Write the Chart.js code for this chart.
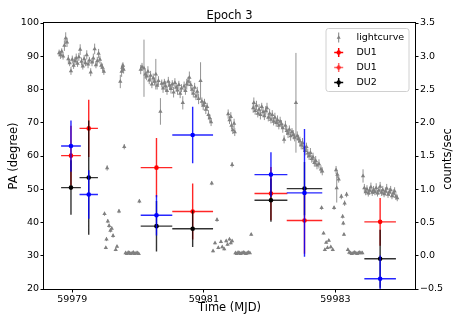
<!DOCTYPE html>
<html>
<head>
<meta charset="utf-8">
<script src="https://cdn.jsdelivr.net/npm/chart.js@4.4.1/dist/chart.umd.min.js"></script>
<style>
  html, body { margin: 0; padding: 0; background: #fff; }
  canvas { display: block; }
</style>
</head>
<body>
<canvas id="paChart" width="463" height="327" style="width:463px;height:327px"></canvas>
<script>
// ---- data ----
const xTicks = [59979, 59981, 59983];
const paTicks = [20, 30, 40, 50, 60, 70, 80, 90, 100];
const rateTicks = [-0.5, 0, 0.5, 1, 1.5, 2, 2.5, 3, 3.5];

// polarisation angle bins
const binTime = [59978.98, 59979.25, 59980.28, 59980.83, 59982.02, 59982.53, 59983.68];
const binHalfWidth = [0.15, 0.14, 0.24, 0.31, 0.25, 0.27, 0.24];
const paDU1Red = [60.1, 68.3, 56.5, 43.3, 48.7, 40.6, 40.2];
const paDU1RedErr = [9.0, 8.6, 8.9, 8.4, 8.0, 10.0, 7.2];
const paDU1Blue = [63.0, 48.4, 42.2, 66.3, 54.4, 48.9, 23.1];
const paDU1BlueErr = [7.7, 7.3, 6.1, 8.5, 6.7, 19.2, 7.0];
const paDU2 = [50.5, 53.5, 38.9, 38.1, 46.7, 50.2, 29.1];
const paDU2Err = [8.2, 17.2, 7.6, 5.5, 6.5, 8.0, 8.7];

// lightcurve (counts/sec)
const lcTime = [
  59978.80, 59978.82, 59978.84, 59978.86, 59978.88, 59978.90, 59978.92, 59978.94, 59978.96, 59978.98,
  59979.00, 59979.02, 59979.04, 59979.06, 59979.08, 59979.10, 59979.12, 59979.14, 59979.16, 59979.18,
  59979.20, 59979.22, 59979.24, 59979.26, 59979.28, 59979.30, 59979.32, 59979.34, 59979.36, 59979.38,
  59979.40, 59979.42, 59979.44, 59979.46, 59979.48,
  59979.49, 59979.51, 59979.52, 59979.53, 59979.54, 59979.56, 59979.58, 59979.60, 59979.62, 59979.66,
  59979.68, 59979.71, 59979.73, 59979.75, 59979.76, 59979.77, 59979.78, 59979.79, 59979.81, 59979.83,
  59979.85, 59979.87, 59979.89, 59979.91, 59979.93, 59979.95, 59979.97, 59979.99, 59980.01, 59980.02,
  59980.04, 59980.06, 59980.09, 59980.11, 59980.13, 59980.15, 59980.17, 59980.19, 59980.21, 59980.23,
  59980.25, 59980.27, 59980.29, 59980.31, 59980.34, 59980.36, 59980.38, 59980.40, 59980.42, 59980.44,
  59980.46, 59980.48, 59980.50, 59980.52, 59980.54, 59980.56, 59980.58, 59980.60, 59980.62, 59980.64,
  59980.66, 59980.68, 59980.70, 59980.72, 59980.74, 59980.76, 59980.78, 59980.80, 59980.82, 59980.84,
  59980.86, 59980.88, 59980.90, 59980.92, 59980.95, 59980.97, 59980.99, 59981.01, 59981.03, 59981.05,
  59981.07, 59981.09, 59981.11,
  59981.12, 59981.14, 59981.17, 59981.20, 59981.22, 59981.26, 59981.28, 59981.31, 59981.34, 59981.36,
  59981.37, 59981.39, 59981.39, 59981.41, 59981.41, 59981.42, 59981.43, 59981.43, 59981.44, 59981.46,
  59981.47, 59981.48, 59981.50, 59981.52, 59981.54, 59981.56, 59981.58, 59981.60, 59981.62, 59981.64,
  59981.66, 59981.68, 59981.70, 59981.72,
  59981.75, 59981.76, 59981.78, 59981.80, 59981.82, 59981.84, 59981.86, 59981.88, 59981.90, 59981.92,
  59981.94, 59981.96, 59981.98, 59982.00, 59982.02, 59982.04, 59982.06, 59982.08, 59982.10, 59982.12,
  59982.14, 59982.16, 59982.18, 59982.20, 59982.22, 59982.24, 59982.26, 59982.28, 59982.30, 59982.32,
  59982.34, 59982.36, 59982.38, 59982.40, 59982.42, 59982.44, 59982.46, 59982.48, 59982.50, 59982.52,
  59982.54, 59982.56, 59982.58, 59982.60, 59982.62, 59982.64, 59982.66, 59982.68, 59982.70, 59982.72,
  59982.75, 59982.78, 59982.80,
  59982.79, 59982.82, 59982.84, 59982.86, 59982.88, 59982.90, 59982.93, 59982.96, 59982.98, 59983.01,
  59983.02, 59983.03, 59983.05, 59983.09, 59983.11, 59983.12, 59983.13, 59983.14, 59983.17, 59983.19,
  59983.21, 59983.23, 59983.25, 59983.27, 59983.29, 59983.31, 59983.33, 59983.35, 59983.37, 59983.39,
  59983.41,
  59983.42, 59983.44, 59983.46, 59983.48, 59983.50, 59983.52, 59983.54, 59983.56, 59983.58, 59983.60,
  59983.62, 59983.64, 59983.66, 59983.68, 59983.70, 59983.72, 59983.74, 59983.76, 59983.78, 59983.80,
  59983.82, 59983.84, 59983.86, 59983.88, 59983.90, 59983.92, 59983.94
];
const lcRate = [
  3.05, 3.02, 3.07, 3.00, 3.16, 3.27, 3.21, 2.96, 2.90, 2.78,
  2.95, 2.86, 2.93, 2.97, 2.89, 2.99, 3.10, 2.92, 2.85, 2.96,
  2.90, 3.02, 2.88, 2.94, 2.76, 2.91, 2.97, 3.11, 2.87, 2.93,
  3.04, 2.95, 2.86, 2.83, 2.77,
  0.63, 0.12, 0.25, 1.32, 0.52, 0.45, 0.38, 0.41, 0.30, 0.09,
  0.14, 0.67, 2.62, 2.77, 2.83, 2.86, 2.80, 1.64, 0.04, 0.03,
  0.05, 0.04, 0.03, 0.04, 0.05, 0.03, 0.04, 0.04, 0.03, 0.82,
  2.80, 2.84, 2.82, 2.73, 2.70, 2.77, 2.64, 2.71, 2.58, 2.67,
  2.62, 2.73, 2.56, 2.63, 2.17, 2.59, 2.52, 2.60, 2.55, 2.48,
  2.62, 2.56, 2.51, 2.58, 2.46, 2.60, 2.53, 2.49, 2.57, 2.44,
  2.52, 2.30, 2.55, 2.48, 2.58, 2.62, 2.68, 2.57, 2.50, 2.44,
  2.53, 2.40, 2.47, 2.36, 2.63, 2.32, 2.26, 2.30, 2.20, 2.24,
  2.12, 2.07, 2.01,
  1.09, 0.07, 0.19, 0.54, 0.12, 0.21, 0.13, 0.10, 0.22, 0.17,
  2.13, 0.25, 2.04, 0.19, 2.09, 1.96, 1.37, 0.22, 1.89, 1.99,
  1.86, 0.04, 0.03, 0.05, 0.04, 0.03, 0.04, 0.05, 0.04, 0.03,
  0.04, 0.05, 0.04, 0.32,
  2.22, 2.30, 2.18, 2.26, 2.14, 2.20, 2.12, 2.24, 2.16, 2.10,
  2.18, 2.22, 2.08, 2.14, 2.05, 2.12, 2.02, 2.08, 2.00, 2.04,
  1.96, 2.02, 1.98, 1.92, 1.75, 1.96, 1.88, 1.84, 1.90, 1.80,
  1.86, 1.82, 1.78, 2.30, 1.80, 1.76, 1.72, 1.66, 1.70, 1.62,
  1.58, 1.64, 1.54, 1.50, 1.55, 1.46, 1.48, 1.40, 1.43, 1.36,
  1.38, 1.30, 1.27,
  0.72, 0.34, 0.09, 0.20, 0.12, 0.23, 0.13, 0.09, 0.72, 1.29,
  1.02, 1.22, 1.15, 0.89, 0.59, 0.49, 0.32, 0.79, 0.92, 0.09,
  0.05, 0.04, 0.03, 0.04, 0.05, 0.04, 0.03, 0.04, 0.05, 0.04,
  0.04,
  1.20, 1.02, 0.96, 1.00, 0.94, 0.98, 1.03, 0.95, 0.99, 0.96,
  1.02, 0.94, 0.98, 1.04, 0.95, 0.99, 0.93, 0.97, 1.01, 0.92,
  0.96, 0.99, 0.90, 0.94, 0.97, 0.89, 0.87
];
const lcErr = [
  0.05, 0.06, 0.05, 0.05, 0.08, 0.09, 0.07, 0.06, 0.05, 0.06,
  0.06, 0.05, 0.06, 0.07, 0.05, 0.06, 0.08, 0.06, 0.05, 0.06,
  0.05, 0.07, 0.06, 0.05, 0.06, 0.06, 0.07, 0.08, 0.05, 0.06,
  0.07, 0.06, 0.05, 0.06, 0.05,
  0.03, 0.02, 0.03, 0.04, 0.03, 0.03, 0.03, 0.03, 0.03, 0.02,
  0.02, 0.03, 0.10, 0.08, 0.06, 0.05, 0.06, 0.04, 0.01, 0.01,
  0.01, 0.01, 0.01, 0.01, 0.01, 0.01, 0.01, 0.01, 0.01, 0.03,
  0.07, 0.06, 0.43, 0.07, 0.06, 0.08, 0.06, 0.07, 0.06, 0.07,
  0.06, 0.23, 0.06, 0.07, 0.20, 0.06, 0.07, 0.06, 0.08, 0.06,
  0.07, 0.06, 0.07, 0.06, 0.08, 0.07, 0.06, 0.07, 0.06, 0.07,
  0.06, 0.10, 0.07, 0.06, 0.08, 0.07, 0.09, 0.06, 0.07, 0.06,
  0.07, 0.06, 0.07, 0.08, 0.28, 0.06, 0.07, 0.06, 0.07, 0.06,
  0.07, 0.06, 0.06,
  0.03, 0.02, 0.02, 0.03, 0.02, 0.02, 0.02, 0.02, 0.02, 0.02,
  0.07, 0.02, 0.06, 0.02, 0.07, 0.06, 0.04, 0.02, 0.06, 0.07,
  0.06, 0.01, 0.01, 0.01, 0.01, 0.01, 0.01, 0.01, 0.01, 0.01,
  0.01, 0.01, 0.01, 0.02,
  0.07, 0.08, 0.06, 0.07, 0.06, 0.08, 0.07, 0.06, 0.07, 0.06,
  0.07, 0.08, 0.06, 0.07, 0.06, 0.07, 0.06, 0.07, 0.06, 0.07,
  0.06, 0.07, 0.06, 0.07, 0.06, 0.07, 0.06, 0.07, 0.06, 0.07,
  0.06, 0.07, 0.06, 0.75, 0.07, 0.06, 0.07, 0.06, 0.07, 0.06,
  0.07, 0.06, 0.07, 0.06, 0.07, 0.06, 0.07, 0.06, 0.07, 0.06,
  0.07, 0.06, 0.06,
  0.03, 0.02, 0.02, 0.02, 0.02, 0.02, 0.02, 0.02, 0.03, 0.06,
  0.22, 0.05, 0.05, 0.04, 0.03, 0.03, 0.02, 0.04, 0.04, 0.02,
  0.01, 0.01, 0.01, 0.01, 0.01, 0.01, 0.01, 0.01, 0.01, 0.01,
  0.01,
  0.10, 0.06, 0.05, 0.06, 0.05, 0.06, 0.07, 0.05, 0.06, 0.05,
  0.07, 0.05, 0.06, 0.07, 0.05, 0.06, 0.05, 0.06, 0.07, 0.05,
  0.06, 0.06, 0.05, 0.06, 0.06, 0.05, 0.05
];

const FONT = '"DejaVu Sans", "Liberation Sans", sans-serif';
const GRAY = '#808080';

// draws vertical (and horizontal) error bars just under each dataset's markers
const errorBars = {
  id: 'errorBars',
  beforeDatasetDraw(chart, args) {
    const ds = chart.data.datasets[args.index];
    if (!ds.yErr) return;
    const xs = chart.scales.x;
    const ys = chart.scales[ds.yAxisID];
    const a = chart.chartArea;
    const c = chart.ctx;
    c.save();
    c.beginPath();
    c.rect(a.left, a.top, a.right - a.left, a.bottom - a.top);
    c.clip();
    c.strokeStyle = ds.barColor;
    c.lineWidth = ds.barWidth;
    c.beginPath();
    ds.data.forEach((p, i) => {
      const px = xs.getPixelForValue(p.x);
      const py = ys.getPixelForValue(p.y);
      c.moveTo(px, ys.getPixelForValue(p.y - ds.yErr[i]));
      c.lineTo(px, ys.getPixelForValue(p.y + ds.yErr[i]));
      if (ds.xErr) {
        c.moveTo(xs.getPixelForValue(p.x - ds.xErr[i]), py);
        c.lineTo(xs.getPixelForValue(p.x + ds.xErr[i]), py);
      }
    });
    c.stroke();
    c.restore();
  }
};

// axes box, title, right axis label and the in-plot legend (matplotlib look)
const decorations = {
  id: 'decorations',
  afterDraw(chart) {
    const a = chart.chartArea;
    const c = chart.ctx;
    c.save();
    c.strokeStyle = '#000';
    c.lineWidth = 1;
    c.strokeRect(Math.round(a.left) - 0.5, Math.round(a.top) - 0.5,
      Math.round(a.right - a.left) + 1, Math.round(a.bottom - a.top) + 1);

    c.fillStyle = '#000';
    c.font = '11.5px ' + FONT;
    c.textAlign = 'center';
    c.textBaseline = 'alphabetic';
    c.fillText('Epoch 3', (a.left + a.right) / 2, 19);

    // right axis label reads bottom-to-top like matplotlib's twinx label
    c.save();
    c.translate(448, (a.top + a.bottom) / 2 + 3);
    c.rotate(-Math.PI / 2);
    c.textBaseline = 'middle';
    c.fillText('counts/sec', 0, 0);
    c.restore();

    // legend box
    const bx = 326, by = 28.5, bw = 83, bh = 63, r = 2.5;
    c.beginPath();
    c.moveTo(bx + r, by);
    c.arcTo(bx + bw, by, bx + bw, by + bh, r);
    c.arcTo(bx + bw, by + bh, bx, by + bh, r);
    c.arcTo(bx, by + bh, bx, by, r);
    c.arcTo(bx, by, bx + bw, by, r);
    c.closePath();
    c.fillStyle = 'rgba(255,255,255,0.8)';
    c.fill();
    c.strokeStyle = '#d0d0d0';
    c.lineWidth = 1;
    c.stroke();

    const entries = [
      { label: 'lightcurve', color: GRAY, tri: true },
      { label: 'DU1', color: '#ff0000' },
      { label: 'DU1', color: 'rgba(255,0,0,0.6)' },
      { label: 'DU2', color: '#000000' }
    ];
    const mx = 338.7, tx = 356.5;
    entries.forEach((e, i) => {
      const y = 37.5 + i * 15;
      c.strokeStyle = e.color;
      c.fillStyle = e.color;
      if (e.tri) {
        c.lineWidth = 1;
        c.beginPath();
        c.moveTo(mx, y - 5); c.lineTo(mx, y + 5);
        c.stroke();
        c.beginPath();
        c.moveTo(mx, y - 2.3); c.lineTo(mx + 2, y + 1.2); c.lineTo(mx - 2, y + 1.2);
        c.closePath();
        c.fill();
      } else {
        c.lineWidth = 1.5;
        c.beginPath();
        c.moveTo(mx - 4.5, y); c.lineTo(mx + 4.5, y);
        c.moveTo(mx, y - 4.5); c.lineTo(mx, y + 4.5);
        c.stroke();
        c.beginPath();
        c.arc(mx, y, 2.2, 0, Math.PI * 2);
        c.fill();
      }
      c.fillStyle = '#000';
      c.font = '9.5px ' + FONT;
      c.textAlign = 'left';
      c.textBaseline = 'middle';
      c.fillText(e.label, tx, y + 0.5);
    });
    c.restore();
  }
};

function tickGrid() {
  return { display: true, drawOnChartArea: false, drawTicks: true, tickLength: 3.5, tickWidth: 1, color: '#000' };
}

const duPoints = vals => binTime.map((t, i) => ({ x: t, y: vals[i] }));

new Chart(document.getElementById('paChart').getContext('2d'), {
  type: 'scatter',
  data: {
    datasets: [
      {
        label: 'lightcurve',
        data: lcTime.map((t, i) => ({ x: t, y: lcRate[i] })),
        yAxisID: 'y1',
        yErr: lcErr,
        barColor: 'rgba(128,128,128,0.85)',
        barWidth: 1,
        pointStyle: 'triangle',
        pointRadius: 2.5,
        backgroundColor: GRAY,
        borderColor: GRAY,
        borderWidth: 0,
        order: 4
      },
      {
        label: 'DU1',
        data: duPoints(paDU1Red),
        yAxisID: 'y',
        yErr: paDU1RedErr,
        xErr: binHalfWidth,
        barColor: 'rgba(255,0,0,0.85)',
        barWidth: 1.4,
        pointRadius: 2.3,
        backgroundColor: '#ff0000',
        borderColor: '#ff0000',
        borderWidth: 0,
        order: 3
      },
      {
        label: 'DU2',
        data: duPoints(paDU2),
        yAxisID: 'y',
        yErr: paDU2Err,
        xErr: binHalfWidth,
        barColor: 'rgba(0,0,0,0.8)',
        barWidth: 1.4,
        pointRadius: 2.3,
        backgroundColor: '#000000',
        borderColor: '#000000',
        borderWidth: 0,
        order: 2
      },
      {
        label: 'DU1',
        data: duPoints(paDU1Blue),
        yAxisID: 'y',
        yErr: paDU1BlueErr,
        xErr: binHalfWidth,
        barColor: 'rgba(0,0,255,0.85)',
        barWidth: 1.4,
        pointRadius: 2.3,
        backgroundColor: '#0000ff',
        borderColor: '#0000ff',
        borderWidth: 0,
        order: 1
      }
    ]
  },
  options: {
    responsive: false,
    animation: false,
    devicePixelRatio: 1,
    layout: { padding: { top: 23, left: 0, right: 0, bottom: 0 } },
    plugins: {
      legend: { display: false },
      title: { display: false },
      tooltip: { enabled: false }
    },
    scales: {
      x: {
        type: 'linear',
        min: 59978.57,
        max: 59984.21,
        afterBuildTicks: s => { s.ticks = xTicks.map(v => ({ value: v })); },
        afterFit: s => { s.height = 38; },
        ticks: { color: '#000', font: { family: FONT, size: 9.5 }, padding: 1.5, maxRotation: 0, callback: v => String(v) },
        grid: tickGrid(),
        border: { display: false },
        title: { display: true, text: 'Time (MJD)', color: '#000', font: { family: FONT, size: 11.5 }, padding: { top: 0, bottom: 12 } }
      },
      y: {
        position: 'left',
        min: 20,
        max: 100,
        afterBuildTicks: s => { s.ticks = paTicks.map(v => ({ value: v })); },
        afterFit: s => { s.width = 44; },
        ticks: { color: '#000', font: { family: FONT, size: 9.5 }, padding: 1.5, callback: v => String(v) },
        grid: tickGrid(),
        border: { display: false },
        title: { display: true, text: 'PA (degree)', color: '#000', font: { family: FONT, size: 11.5 }, padding: { top: 7, bottom: 0 } }
      },
      y1: {
        position: 'right',
        min: -0.5,
        max: 3.5,
        afterBuildTicks: s => { s.ticks = rateTicks.map(v => ({ value: v })); },
        afterFit: s => { s.width = 48; },
        ticks: { color: '#000', font: { family: FONT, size: 9.5 }, padding: 1.5, callback: v => v.toFixed(1).replace('-', '\u2212') },
        grid: tickGrid(),
        border: { display: false },
        title: { display: false }
      }
    }
  },
  plugins: [errorBars, decorations]
});
</script>
</body>
</html>
